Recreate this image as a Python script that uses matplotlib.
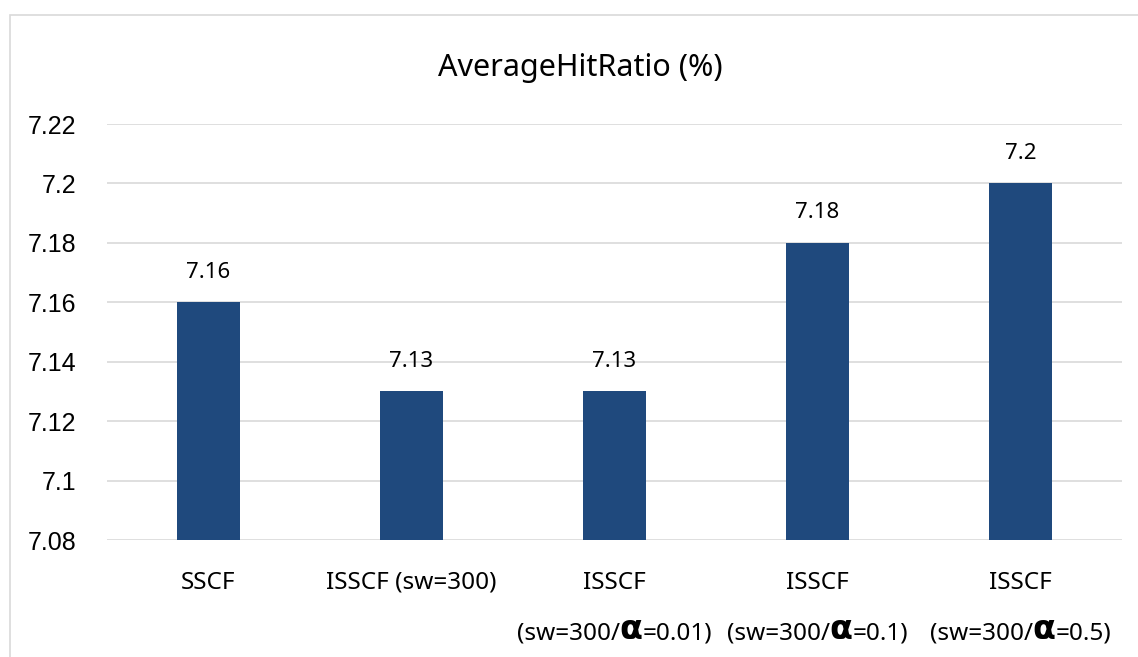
import matplotlib
matplotlib.use("Agg")
import matplotlib.pyplot as plt
from matplotlib.patches import Rectangle
from matplotlib.offsetbox import TextArea, HPacker, AnnotationBbox

# Chart data
categories = ["SSCF", "ISSCF (sw=300)", "ISSCF", "ISSCF", "ISSCF"]
second_lines = [None, None, "0.01", "0.1", "0.5"]
values = [7.16, 7.13, 7.13, 7.18, 7.20]
value_labels = ["7.16", "7.13", "7.13", "7.18", "7.2"]
yticks = [7.08, 7.10, 7.12, 7.14, 7.16, 7.18, 7.20, 7.22]
ytick_labels = ["7.08", "7.1", "7.12", "7.14", "7.16", "7.18", "7.2", "7.22"]
title = "AverageHitRatio (%)"

BAR = "#1F497D"
GRID = "#D9D9D9"
TXT = "#000000"
FONT = "Noto Sans"
NUMFONT = "Liberation Sans"

W, H = 1138, 657
fig = plt.figure(figsize=(W / 100, H / 100), dpi=100)

# outer chart border
fig.patches.append(Rectangle((10 / W, -0.1), 1.2, 1 - 15 / H + 0.1,
                             transform=fig.transFigure, fill=False,
                             edgecolor=GRID, linewidth=1.2))

ax = fig.add_axes([107 / W, 1 - 540 / H, (1122 - 107) / W, (540 - 124) / H])
x = list(range(len(categories)))
ax.bar(x, values, width=0.31, color=BAR, zorder=3)
ax.set_xlim(-0.5, len(categories) - 0.5)
ax.set_ylim(7.08, 7.22)
ax.set_yticks(yticks)
ax.set_yticklabels(ytick_labels, fontsize=18, family=NUMFONT, color=TXT)
ax.tick_params(axis="y", length=0, pad=22)
ax.set_xticks([])
ax.grid(axis="y", color=GRID, linewidth=1.2, zorder=0)
for s in ax.spines.values():
    s.set_visible(False)

# value labels above bars
for xi, v, lab in zip(x, values, value_labels):
    ax.annotate(lab, (xi, v), xytext=(0, 21.6), textcoords="offset points",
                ha="center", va="center", fontsize=16, family=FONT, color=TXT)

# category labels
for xi, cat, sec in zip(x, categories, second_lines):
    ax.text(xi, -0.103, cat, transform=ax.get_xaxis_transform(),
            ha="center", va="center", fontsize=17.5, family=FONT, color=TXT)
    if sec is not None:
        parts = [
            TextArea("(sw=300/", textprops=dict(fontsize=17.5, family=FONT, color=TXT)),
            TextArea("α", textprops=dict(fontsize=24, family="DejaVu Sans",
                                         fontweight="bold", color=TXT)),
            TextArea("=" + sec + ")", textprops=dict(fontsize=17.5, family=FONT, color=TXT)),
        ]
        box = HPacker(children=parts, pad=0, sep=0, align="baseline")
        ab = AnnotationBbox(box, (xi, -0.216), xycoords=("data", "axes fraction"),
                            box_alignment=(0.5, 0.5), frameon=False,
                            annotation_clip=False)
        ax.add_artist(ab)

fig.text(580 / W, 1 - 68 / H, title, ha="center", va="center",
         fontsize=22, family=FONT, color=TXT)

fig.savefig("out.png", dpi=100, facecolor="white")
